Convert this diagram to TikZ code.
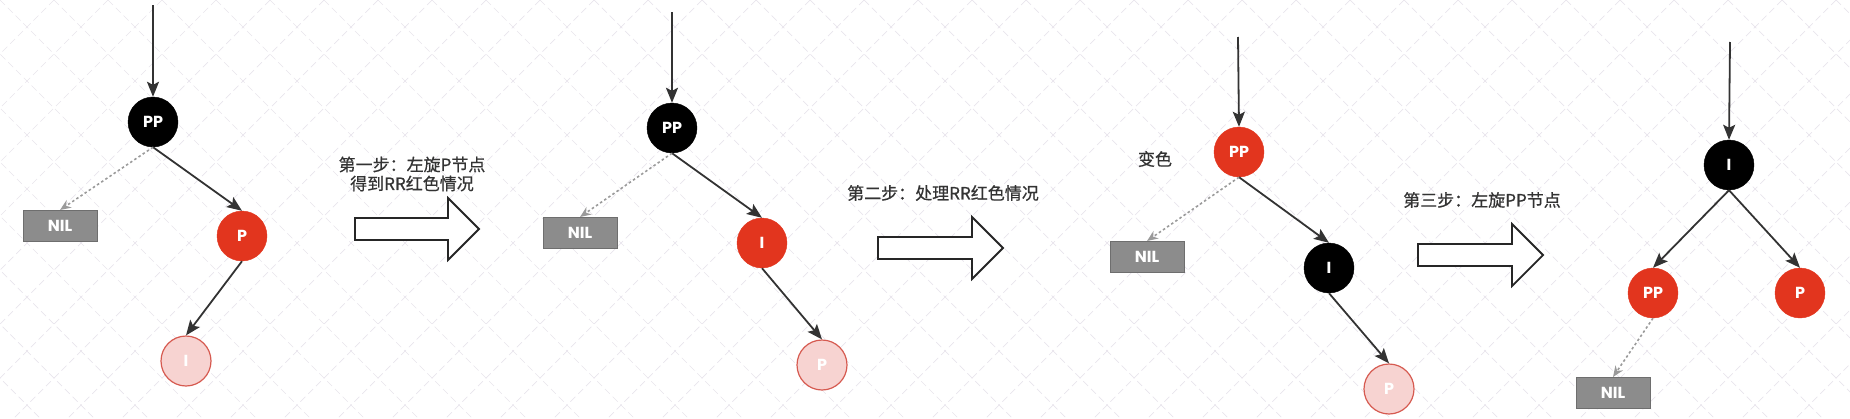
\documentclass[tikz,border=0pt]{standalone}
\usepackage{fontspec}
\setmainfont{Noto Sans CJK SC}
\newfontfamily\notefont{Noto Sans CJK SC}[FakeBold=0.6]
\newfontfamily\lblfont{Poppins}
\usetikzlibrary{arrows.meta,positioning}
\definecolor{TreeRed}{HTML}{E2351E}
\definecolor{PaleRed}{HTML}{F7D3D1}
\definecolor{PaleEdge}{HTML}{D65A50}
\definecolor{NilGray}{HTML}{8C8C8C}
\definecolor{NilEdge}{HTML}{6E6E6E}
\definecolor{Ink}{HTML}{333333}
\definecolor{DotGray}{HTML}{9A9A9A}
\definecolor{GridTint}{HTML}{E8E4EC}

\tikzset{
  rbnode/.style={circle,minimum size=50pt,inner sep=0pt,text=white,
                 font=\lblfont\bfseries\fontsize{16}{16}\selectfont},
  blacknode/.style={rbnode,fill=black,draw=black},
  rednode/.style={rbnode,fill=TreeRed,draw=TreeRed},
  palenode/.style={rbnode,fill=PaleRed,draw=PaleEdge,line width=1.2pt},
  nilbox/.style={rectangle,fill=NilGray,draw=NilEdge,line width=1pt,
                 minimum width=74pt,minimum height=31pt,inner sep=0pt,text=white,
                 font=\lblfont\bfseries\fontsize{16}{16}\selectfont},
  link/.style={draw=Ink,line width=1.8pt,-{Stealth[length=15pt,width=12pt,inset=3pt]}},
  niledge/.style={draw=DotGray,line width=1.6pt,dash pattern=on 2.5pt off 2.5pt,
                  -{Stealth[length=11pt,width=9pt]}},
  stepnote/.style={text=Ink,font=\notefont\fontsize{17}{19}\selectfont,align=center},
  bigarrow/.style={draw=black!85,fill=white,line width=1.8pt,line join=miter},
  gridline/.style={draw=GridTint,line width=.7pt,dash pattern=on 7pt off 4pt}
}

\begin{document}
\begin{tikzpicture}[x=1pt,y=-1pt]
  \useasboundingbox (0,0) rectangle (1850,418);

  % faint canvas grid
  \begin{scope}
    \clip (0,0) rectangle (1850,418);
    \foreach \k in {-432,-378,...,1850}
      \draw[gridline] (\k,0) -- ++(418,418);
    \foreach \k in {0,54,...,2300}
      \draw[gridline] (\k,0) -- ++(-418,418);
  \end{scope}

  % tree 1: before
  \coordinate (top1) at (153,5);
  \node[blacknode] (pp1) at (153,122) {PP};
  \node[rednode] (p1) at (242,236) {P};
  \node[palenode] (i1) at (186,361) {I};
  \node[nilbox] (nil1) at (60,226) {NIL};
  \draw[link] (top1) -- (pp1.north);
  \draw[link] (pp1.south) -- (p1.north);
  \draw[link] (p1.south) -- (i1.north);
  \draw[niledge] (pp1.south) -- (nil1.north);

  % step 1
  \node[stepnote] (step1) at (412,174) {第一步：左旋P节点\\得到RR红色情况};
  \draw[bigarrow] (355,218) -- ++(93,0) -- ++(0,-20) -- ++(31,31)
       -- ++(-31,31) -- ++(0,-20) -- ++(-93,0) -- cycle;

  % tree 2: after left rotation of P
  \coordinate (top2) at (672,12);
  \node[blacknode] (pp2) at (672,128) {PP};
  \node[rednode] (i2) at (762,243) {I};
  \node[palenode] (p2) at (822,365) {P};
  \node[nilbox] (nil2) at (580,233) {NIL};
  \draw[link] (top2) -- (pp2.north);
  \draw[link] (pp2.south) -- (i2.north);
  \draw[link] (i2.south) -- (p2.north);
  \draw[niledge] (pp2.south) -- (nil2.north);

  % step 2
  \node[stepnote] (step2) at (943,193) {第二步：处理RR红色情况};
  \draw[bigarrow] (878,237) -- ++(94,0) -- ++(0,-20) -- ++(31,31)
       -- ++(-31,31) -- ++(0,-20) -- ++(-94,0) -- cycle;

  % tree 3: recoloured
  \coordinate (top3) at (1238,37);
  \node[rednode] (pp3) at (1239,152) {PP};
  \node[stepnote] (recolor) at (1155,159) {变色};
  \node[blacknode] (i3) at (1329,268) {I};
  \node[palenode] (p3) at (1389,389) {P};
  \node[nilbox] (nil3) at (1147,257) {NIL};
  \draw[link] (top3) -- (pp3.north);
  \draw[link] (pp3.south) -- (i3.north);
  \draw[link] (i3.south) -- (p3.north);
  \draw[niledge] (pp3.south) -- (nil3.north);

  % step 3
  \node[stepnote] (step3) at (1482,200) {第三步：左旋PP节点};
  \draw[bigarrow] (1418,244) -- ++(94,0) -- ++(0,-20) -- ++(31,31)
       -- ++(-31,31) -- ++(0,-20) -- ++(-94,0) -- cycle;

  % tree 4: after left rotation of PP
  \coordinate (top4) at (1730,42);
  \node[blacknode] (i4) at (1729,165) {I};
  \node[rednode] (pp4) at (1653,293) {PP};
  \node[rednode] (p4) at (1800,293) {P};
  \node[nilbox] (nil4) at (1613,393) {NIL};
  \draw[link] (top4) -- (i4.north);
  \draw[link] (i4.south) -- (pp4.north);
  \draw[link] (i4.south) -- (p4.north);
  \draw[niledge] (pp4.south) -- (nil4.north);
\end{tikzpicture}
\end{document}
